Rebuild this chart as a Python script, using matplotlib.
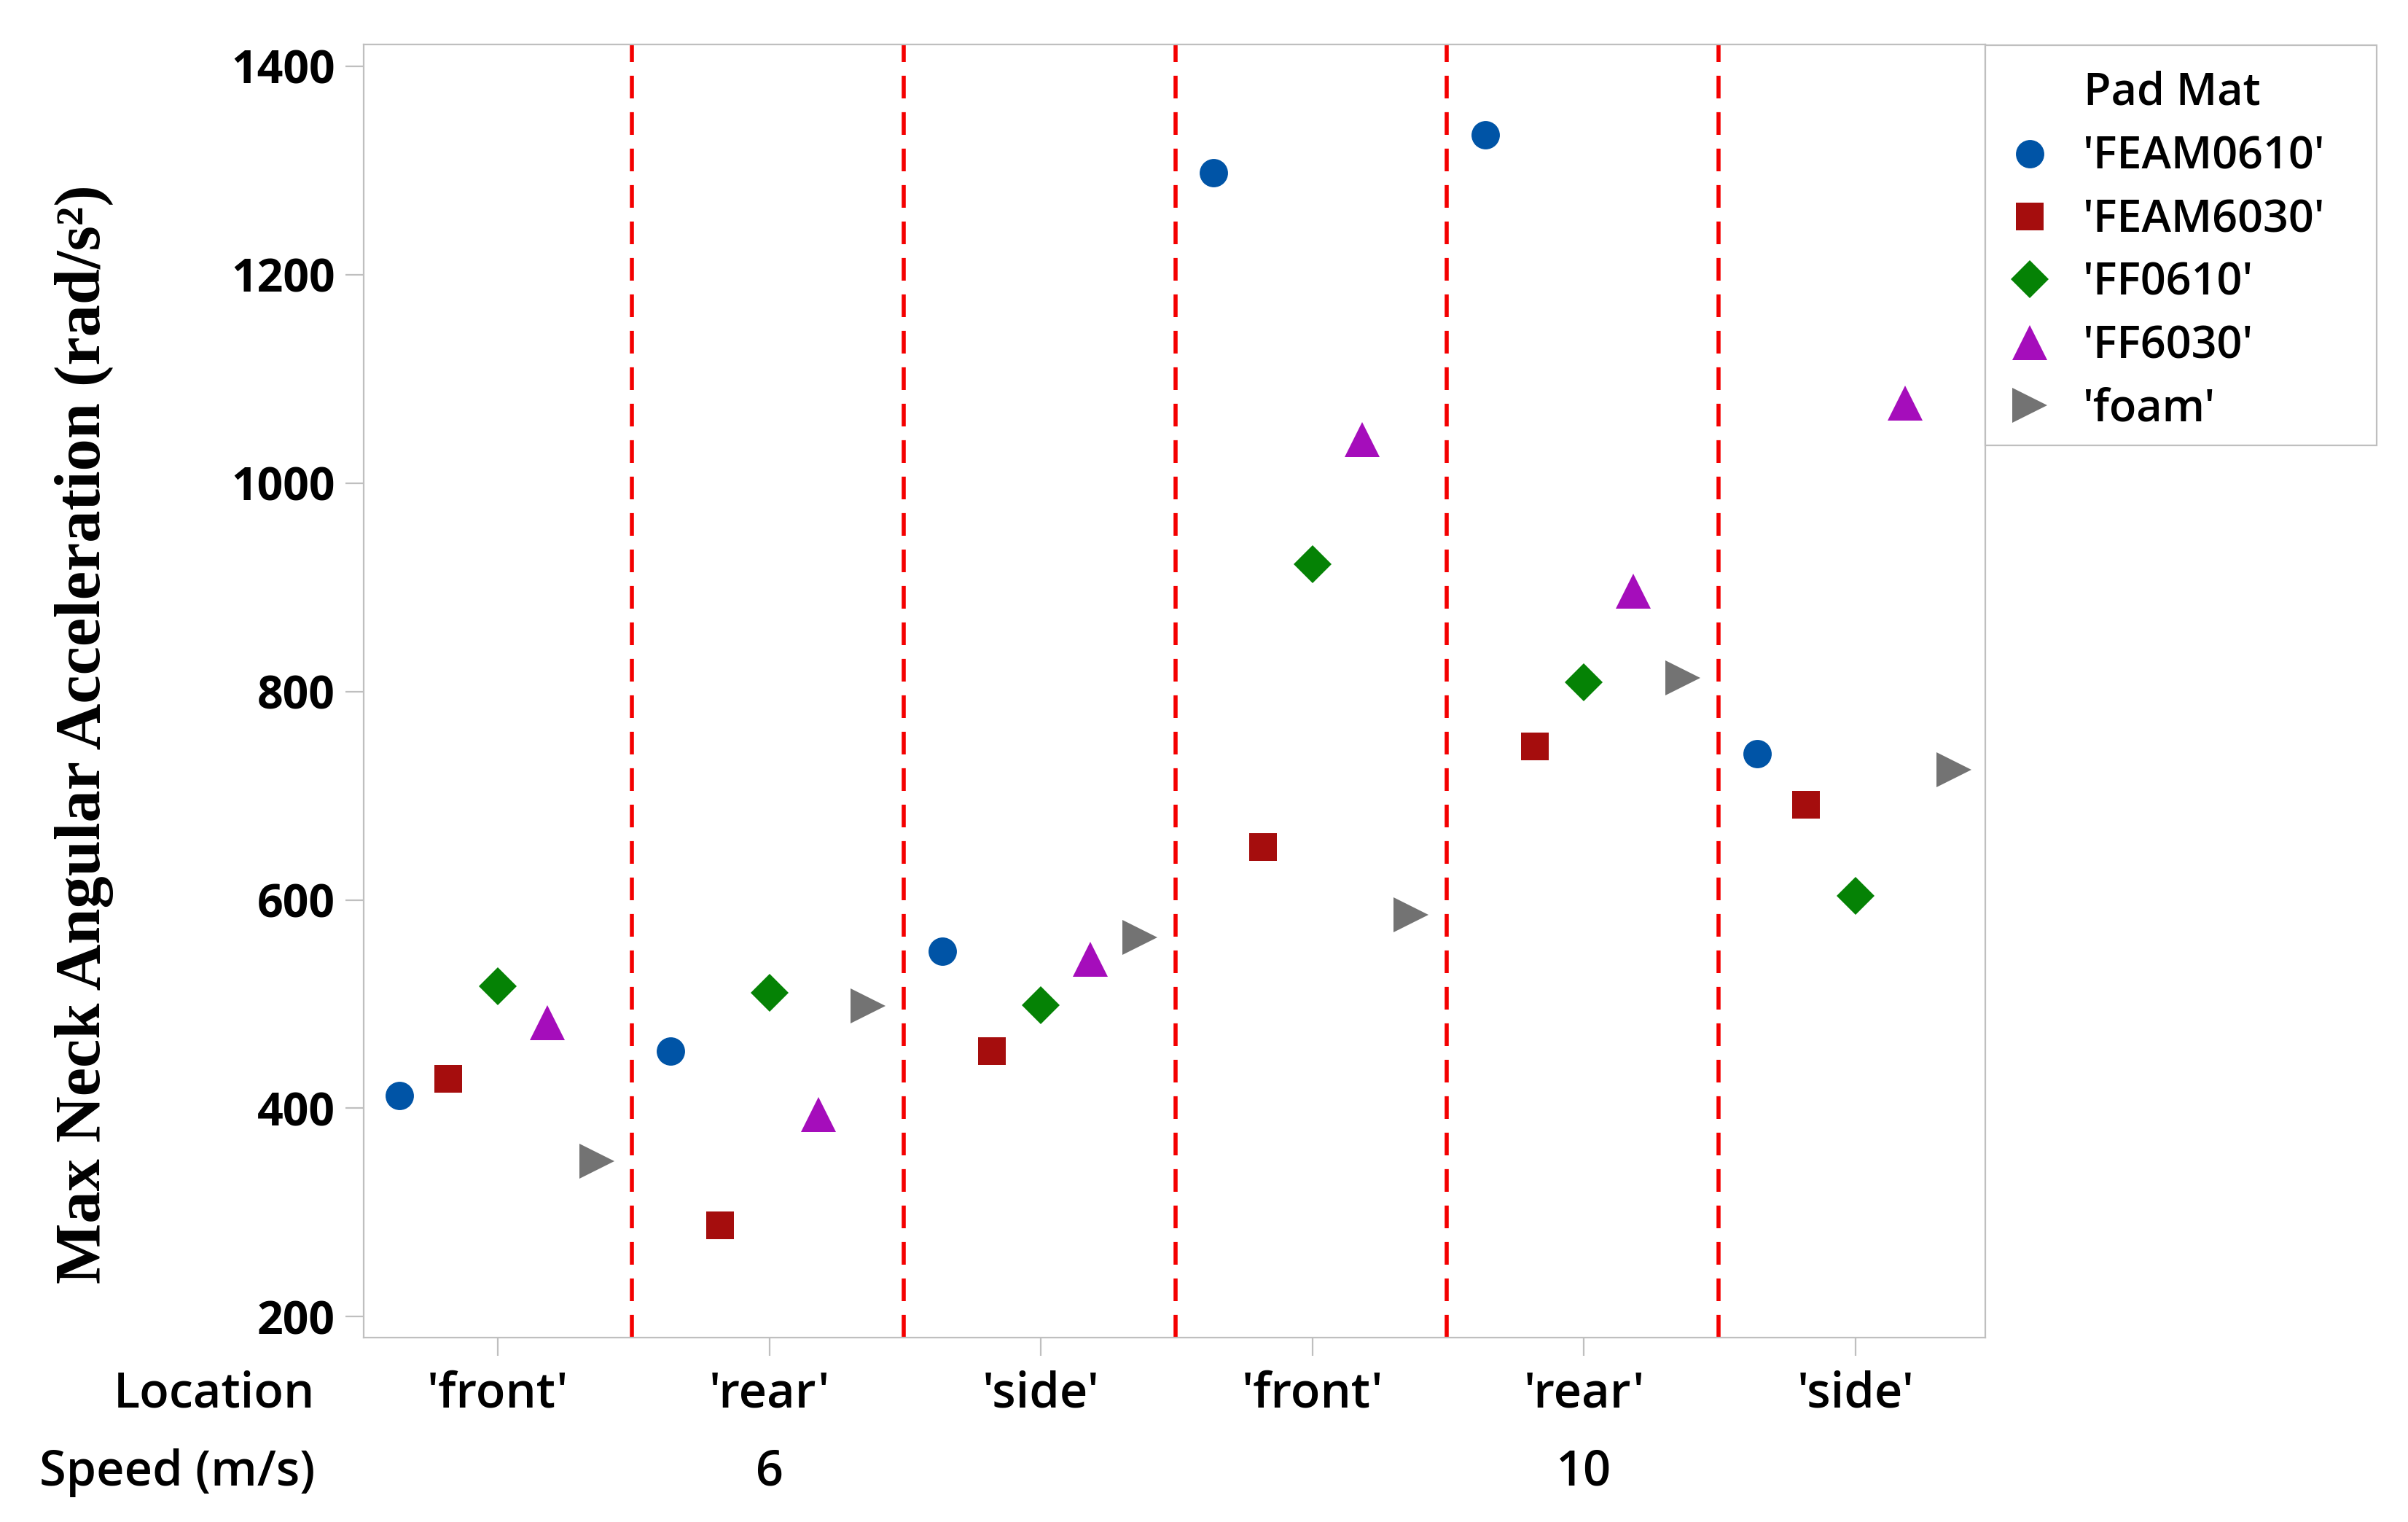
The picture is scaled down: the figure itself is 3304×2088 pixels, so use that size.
import matplotlib
matplotlib.use('Agg')
import matplotlib.pyplot as plt
from matplotlib.patches import Rectangle
import numpy as np

# data
locations = ["'front'", "'rear'", "'side'", "'front'", "'rear'", "'side'"]
speeds = ['6', '10']
pad_mats = ["'FEAM0610'", "'FEAM6030'", "'FF0610'", "'FF6030'", "'foam'"]

feam0610 = [412, 455, 551, 1298, 1334, 740]
feam6030 = [428, 288, 455, 651, 747, 691]
ff0610 = [517, 511, 499, 922, 809, 604]
ff6030 = [482, 394, 543, 1042, 896, 1077]
foam = [349, 498, 564, 586, 813, 725]

series = [feam0610, feam6030, ff0610, ff6030, foam]
colors = ['#0054A6', '#A50D0D', '#058205', '#A50DBB', '#737373']
markers = ['o', 's', 'D', '^', '>']
msizes = [14, 13.5, 13, 17, 17]

plt.rcParams['font.family'] = ['Open Sans', 'DejaVu Sans']
W = 'semibold'

fig = plt.figure(figsize=(16.52, 10.44), dpi=200)
ax = fig.add_axes([0.151, 0.1212, 0.6735, 0.8496])

group_step = 5.5
n_groups = len(locations)
centers = np.arange(n_groups) * group_step + 2

for j, (vals, col, mk, ms, name) in enumerate(zip(series, colors, markers, msizes, pad_mats)):
    xs = np.arange(n_groups) * group_step + j
    ax.plot(xs, vals, linestyle='none', marker=mk, ms=ms, color=col,
            markeredgewidth=0, label=name)

for g in range(n_groups - 1):
    ax.axvline(g * group_step + 4.72, color='#F40000', lw=2.0,
               linestyle=(0, (5.6, 3.4)), zorder=1)

ax.set_xlim(-0.72, (n_groups - 1) * group_step + 4.63)
ax.set_ylim(180, 1421)
ax.set_yticks([200, 400, 600, 800, 1000, 1200, 1400])
ax.set_xticks(centers)
ax.set_xticklabels(locations, fontsize=24, fontweight=W)
for lbl in ax.get_yticklabels():
    lbl.set_fontsize(22.5)
    lbl.set_fontweight('bold')

for sp in ax.spines.values():
    sp.set_color('#BFBFBF')
    sp.set_linewidth(0.8)
ax.tick_params(axis='both', color='#BFBFBF', width=0.8, length=9)
ax.tick_params(axis='y', pad=5)
ax.tick_params(axis='x', pad=7)

# speed row, centred under each speed block
for k, sp_lbl in enumerate(speeds):
    xc = centers[k * 3 + 1]
    ax.text(xc, -0.1044, sp_lbl, transform=ax.get_xaxis_transform(),
            ha='center', va='center', fontsize=24, fontweight=W)

fig.text(0.1308, 0.0838, 'Location', ha='right', va='center', fontsize=24, fontweight=W)
fig.text(0.1308, 0.0325, 'Speed (m/s)', ha='right', va='center', fontsize=24, fontweight=W)

fig.text(0.0351, 0.5177, 'Max Neck Angular Acceleration (rad/s²)', rotation=90,
         ha='center', va='center', fontsize=31.8, fontweight='bold',
         family=['Liberation Serif', 'DejaVu Serif'])

# legend box drawn by hand so it can be wider than its contents
fig.patches.append(Rectangle((0.8245, 0.7074), 0.1625, 0.2629, transform=fig.transFigure,
                             facecolor='white', edgecolor='#BFBFBF', lw=0.8))
fig.text(0.8653, 1 - 128 / 2088, 'Pad Mat', ha='left', va='center',
         fontsize=22, fontweight=W)
leg = fig.legend(loc='upper left', bbox_to_anchor=(0.8360, 0.9114),
                 fontsize=22, frameon=False, borderpad=0, handlelength=0.75,
                 handletextpad=0.8, labelspacing=0.40, borderaxespad=0)
for t in leg.get_texts():
    t.set_fontweight(W)

fig.savefig('out.png', dpi=200)
